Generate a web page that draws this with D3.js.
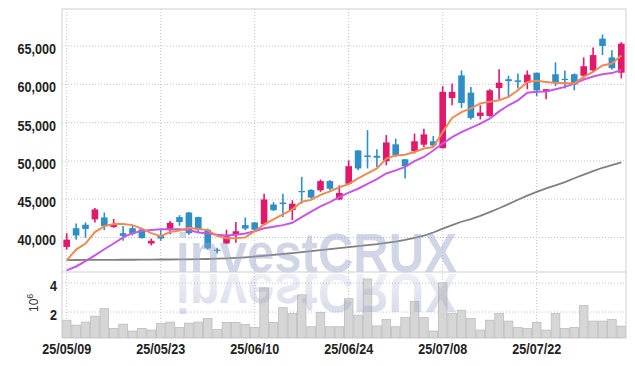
<!DOCTYPE html>
<html>
<head>
<meta charset="utf-8">
<script src="https://cdn.jsdelivr.net/npm/d3@7"></script>
<style>
  body { margin: 0; background: #fff; }
  .tick text { font-family: "Liberation Sans", sans-serif; font-weight: bold; fill: #222; }
</style>
</head>
<body>
<div id="chart"></div>
<script>
// trading days (yy/mm/dd)
var dates = ["25/05/09","25/05/12","25/05/13","25/05/14","25/05/15","25/05/16","25/05/19","25/05/20","25/05/21","25/05/22",
  "25/05/23","25/05/26","25/05/27","25/05/28","25/05/29","25/05/30","25/06/02","25/06/04","25/06/05","25/06/09",
  "25/06/10","25/06/11","25/06/12","25/06/13","25/06/16","25/06/17","25/06/18","25/06/19","25/06/20","25/06/23",
  "25/06/24","25/06/25","25/06/26","25/06/27","25/06/30","25/07/01","25/07/02","25/07/03","25/07/04","25/07/07",
  "25/07/08","25/07/09","25/07/10","25/07/11","25/07/14","25/07/15","25/07/16","25/07/17","25/07/18","25/07/21",
  "25/07/22","25/07/23","25/07/24","25/07/25","25/07/28","25/07/29","25/07/30","25/07/31","25/08/01","25/08/04"]

var open  = [38700,41150,41600,42300,42550,41300,40500,41150,41000,39150,
             40150,40950,42600,43200,42600,40950,38350,39150,40300,41550,
             41900,41650,44250,44500,43500,46000,46150,46100,47300,44900,
             46950,51300,50650,50600,49900,52100,50150,51200,52050,52500,
             51600,58150,61100,58850,55800,55800,59450,60600,60450,60150,
             61450,58950,61250,60650,61250,61050,61750,65900,63450,61450]
var high  = [40500,41750,41900,43800,43200,42350,41450,41450,41150,39800,
             40900,42100,42850,43250,42650,41100,38600,40950,41950,42550,
             41950,45650,44550,45650,44800,47850,46250,47500,47400,46750,
             50000,51350,53950,51450,53300,52850,50150,53500,54150,53200,
             59700,60050,61750,59600,57200,59300,61900,61050,61350,61750,
             61450,59300,62800,61750,61350,63450,64750,66450,64400,65450]
var low   = [38350,39650,39900,41900,40900,41200,39500,40200,39800,38900,
             39500,40350,41450,40300,40650,38350,37850,39050,39250,40900,
             40650,41500,43400,42600,42200,44350,45000,45900,46100,44800,
             46850,48700,48950,49150,49350,50450,47650,50900,51750,51750,
             51550,57200,56850,55350,55350,55700,58000,58150,59400,59300,
             58400,58000,59700,59400,59150,60700,61550,63750,61850,60700]
var close = [39650,40200,41050,43600,41450,41550,40150,40450,39850,39500,
             39800,41850,41950,40500,40950,38500,38250,40100,40750,41100,
             40950,44900,43500,44300,44350,45900,45150,47300,46300,45750,
             49250,48950,50450,50350,52350,50650,49250,52500,53400,51950,
             58950,58950,57500,55550,56250,59150,60150,60350,60250,61200,
             59150,59300,60150,60500,59900,62300,63750,64950,62050,65250]
// volume, millions of shares
var volume = [1.40,1.06,1.27,1.68,2.20,0.83,1.13,0.65,0.83,0.72,
              1.18,1.27,0.90,1.20,1.27,1.52,0.77,1.25,1.25,1.11,
              0.90,3.64,1.25,2.27,1.86,3.16,0.95,1.93,0.95,0.95,
              2.89,1.75,4.26,1.01,1.45,0.95,1.59,2.70,1.59,0.65,
              3.99,1.86,2.09,1.52,0.72,1.40,1.86,1.34,0.90,0.83,
              1.25,0.72,1.86,0.83,0.90,2.43,1.34,1.34,1.45,0.99]
// moving averages as drawn
var ma5   = [36950,38350,39150,40650,41400,41700,41700,41550,41100,40500,
             40100,40650,40850,41200,41050,40900,40150,39850,39850,39950,
             40750,41650,42300,42950,43600,44600,44850,45500,45950,46500,
             46900,47650,48300,48950,50250,50650,50750,51100,51550,51750,
             53700,55550,56300,56800,57450,57650,57850,58300,59150,60250,
             60400,60250,60100,60100,60050,60900,61550,62400,62650,63700]
var ma20  = [35650,36150,36850,37600,38400,39150,39950,40500,40800,40900,
             41000,41000,41000,40900,40600,40450,40300,40200,40300,40450,
             40750,41150,41350,41550,41850,42600,43300,44000,44550,45200,
             45800,46300,46950,47550,48300,48700,49150,49900,50450,51300,
             52200,53050,53700,54250,54800,55450,56400,57200,57850,58850,
             58950,59000,59300,59600,60050,60550,60950,61250,61400,61800]
var ma120 = [36980,37000,37010,37010,37020,37020,37030,37030,37050,37050,
             37060,37060,37070,37090,37100,37130,37170,37220,37280,37350,
             37440,37550,37660,37780,37900,38030,38160,38290,38420,38550,
             38680,38810,38940,39070,39230,39390,39620,39880,40170,40590,
             41100,41550,41990,42340,42770,43250,43750,44300,44860,45410,
             45890,46360,46750,47170,47670,48150,48610,49040,49390,49730]

var tickDates  = ["25/05/09","25/05/23","25/06/10","25/06/24","25/07/08","25/07/22"]
var priceTicks = [40000,45000,50000,55000,60000,65000]
var volTicks   = [2,4]

var width = 635, height = 366
var plotLeft = 62, plotRight = 626, plotTop = 9, mainBottom = 272, volBottom = 338

var upColor = "#e2186b", downColor = "#2d8fc5"

var svg = d3.select("#chart")
  .append("svg")
    .attr("width", width)
    .attr("height", height)

var x = d3.scaleBand().domain(dates).range([plotLeft, plotRight])
var cx = function(d) { return x(d) + x.bandwidth() / 2 }
var y = d3.scaleLinear().domain([35430, 69770]).range([mainBottom, plotTop])
var yv = d3.scaleLinear().domain([0.17, 4.74]).range([volBottom, mainBottom])

// squeeze tick labels to the narrow look of the original
function narrow(sel) {
  sel.each(function() {
    var w = this.getComputedTextLength()
    d3.select(this).attr("textLength", w * 0.84).attr("lengthAdjust", "spacingAndGlyphs")
  })
}

// price grid + labels
var yAxis = svg.append("g")
  .attr("transform", "translate(" + plotLeft + ",0)")
  .call(d3.axisLeft(y).tickValues(priceTicks).tickSize(-(plotRight - plotLeft)).tickPadding(6)
    .tickFormat(d3.format(",")))
yAxis.select(".domain").remove()
yAxis.selectAll("line").attr("stroke", "#bfc3d6").attr("stroke-dasharray", "1,2")
yAxis.selectAll("text").style("font-size", "15px").attr("dy", "0.53em").call(narrow)

// volume grid + labels
var vAxis = svg.append("g")
  .attr("transform", "translate(" + plotLeft + ",0)")
  .call(d3.axisLeft(yv).tickValues(volTicks).tickSize(-(plotRight - plotLeft)).tickPadding(5)
    .tickFormat(d3.format("d")))
vAxis.select(".domain").remove()
vAxis.selectAll("line").attr("stroke", "#bfc3d6").attr("stroke-dasharray", "1,2")
vAxis.selectAll("text").style("font-size", "15px").attr("dy", "0.5em").call(narrow)

// vertical grid at date ticks
svg.append("g")
  .selectAll("line")
  .data(tickDates)
  .enter()
  .append("line")
    .attr("x1", cx).attr("x2", cx)
    .attr("y1", plotTop).attr("y2", volBottom)
    .attr("stroke", "#bfc3d6")
    .attr("stroke-dasharray", "1,2")

// x axis labels
var xAxis = svg.append("g")
  .attr("transform", "translate(0," + volBottom + ")")
  .call(d3.axisBottom(x).tickValues(tickDates).tickSize(0).tickPadding(5))
xAxis.select(".domain").remove()
xAxis.selectAll("text").style("font-size", "15px").call(narrow)

// 10^6 label
var unit = svg.append("text")
  .attr("transform", "translate(38,312) rotate(-90)")
  .style("font-family", "Liberation Sans, sans-serif")
  .style("font-size", "12px")
  .attr("fill", "#333")
unit.append("tspan").text("10")
unit.append("tspan").attr("dy", -5).style("font-size", "9px").text("6")

var idx = d3.range(dates.length)

// volume bars
svg.append("g")
  .selectAll("rect")
  .data(idx)
  .enter()
  .append("rect")
    .attr("x", function(i) { return x(dates[i]) + 0.4 })
    .attr("width", x.bandwidth() - 0.8)
    .attr("y", function(i) { return yv(volume[i]) })
    .attr("height", function(i) { return volBottom - yv(volume[i]) })
    .attr("fill", "#d6d6d6")
    .attr("stroke", "#bdbdbd")
    .attr("stroke-width", 0.8)

// candles
var candle = svg.append("g")
  .selectAll("g")
  .data(idx)
  .enter()
  .append("g")
candle.append("line")
    .attr("x1", function(i) { return cx(dates[i]) })
    .attr("x2", function(i) { return cx(dates[i]) })
    .attr("y1", function(i) { return y(high[i]) })
    .attr("y2", function(i) { return y(low[i]) })
    .attr("stroke", function(i) { return close[i] >= open[i] ? upColor : downColor })
    .attr("stroke-width", 1.6)
candle.append("rect")
    .attr("x", function(i) { return cx(dates[i]) - 3.3 })
    .attr("width", 6.6)
    .attr("y", function(i) { return y(Math.max(open[i], close[i])) })
    .attr("height", function(i) { return Math.max(1.2, Math.abs(y(open[i]) - y(close[i]))) })
    .attr("fill", function(i) { return close[i] >= open[i] ? upColor : downColor })

// moving averages
var maLine = function(arr) {
  return d3.line()
    .x(function(i) { return cx(dates[i]) })
    .y(function(i) { return y(arr[i]) })(idx)
}
svg.append("path").attr("d", maLine(ma120)).attr("fill", "none").attr("stroke", "#808080").attr("stroke-width", 1.8)
svg.append("path").attr("d", maLine(ma20)).attr("fill", "none").attr("stroke", "#c955e6").attr("stroke-width", 2)
svg.append("path").attr("d", maLine(ma5)).attr("fill", "none").attr("stroke", "#f08a52").attr("stroke-width", 2)

// watermark with reflection
var defs = svg.append("defs")
var grad = defs.append("linearGradient").attr("id", "fade").attr("x1", 0).attr("x2", 0).attr("y1", 0).attr("y2", 1)
grad.append("stop").attr("offset", "0%").attr("stop-color", "#9aa3c8").attr("stop-opacity", 0.45)
grad.append("stop").attr("offset", "100%").attr("stop-color", "#9aa3c8").attr("stop-opacity", 0.1)

svg.append("text")
  .attr("x", 176).attr("y", 272)
  .attr("textLength", 281).attr("lengthAdjust", "spacingAndGlyphs")
  .style("font-family", "Liberation Sans, sans-serif")
  .style("font-weight", "bold")
  .style("font-size", "55px")
  .attr("fill", "#9aa3c8")
  .attr("fill-opacity", 0.45)
  .text("investCRUX")
svg.append("text")
  .attr("transform", "translate(0,546) scale(1,-1)")
  .attr("x", 176).attr("y", 272)
  .attr("textLength", 281).attr("lengthAdjust", "spacingAndGlyphs")
  .style("font-family", "Liberation Sans, sans-serif")
  .style("font-weight", "bold")
  .style("font-size", "55px")
  .attr("fill", "url(#fade)")
  .text("investCRUX")

// frame
svg.append("rect")
  .attr("x", plotLeft).attr("y", plotTop)
  .attr("width", plotRight - plotLeft).attr("height", mainBottom - plotTop)
  .attr("fill", "none").attr("stroke", "#cfcfcf")
svg.append("line").attr("x1", plotLeft).attr("x2", plotLeft).attr("y1", mainBottom).attr("y2", volBottom).attr("stroke", "#cfcfcf")
svg.append("line").attr("x1", plotRight).attr("x2", plotRight).attr("y1", mainBottom).attr("y2", volBottom).attr("stroke", "#cfcfcf")
</script>
</body>
</html>
